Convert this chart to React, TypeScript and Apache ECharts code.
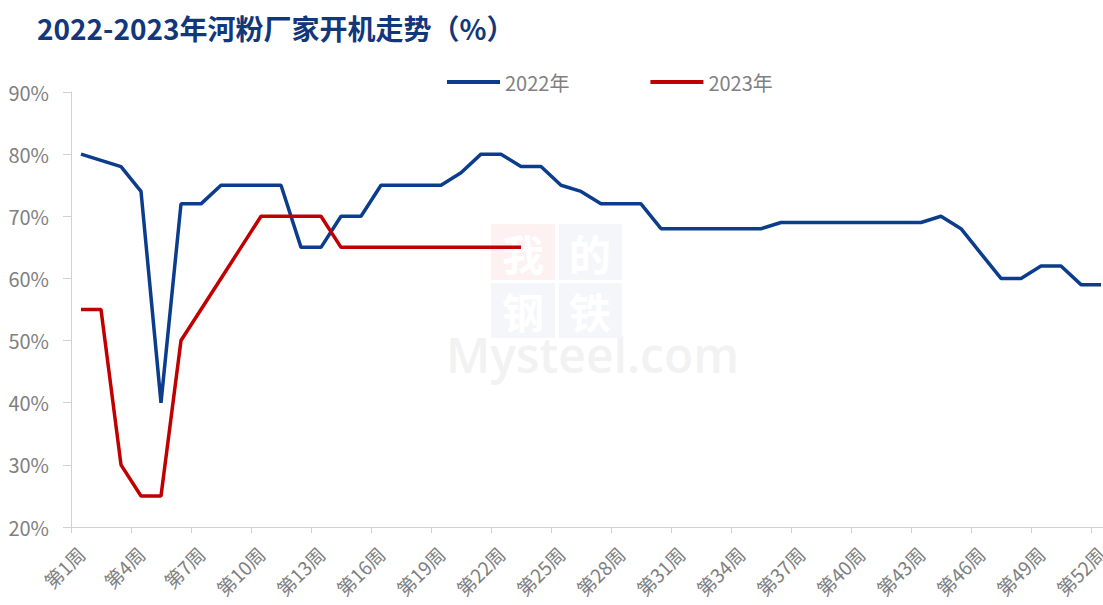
import React, { useEffect, useRef } from "react";
import * as echarts from "echarts";

const weeks: string[] = Array.from({ length: 52 }, (_, i) => `第${i + 1}周`);

const series2022: number[] = [
  80, 79, 78, 74, 40, 72, 72, 75, 75, 75, 75, 65, 65, 70, 70, 75, 75, 75, 75, 77,
  80, 80, 78, 78, 75, 74, 72, 72, 72, 68, 68, 68, 68, 68, 68, 69, 69, 69, 69, 69,
  69, 69, 69, 70, 68, 64, 60, 60, 62, 62, 59, 59,
];

const series2023: number[] = [
  55, 55, 30, 25, 25, 50, 55, 60, 65, 70, 70, 70, 70, 65, 65, 65, 65, 65, 65, 65,
  65, 65, 65,
];

const yTicks = { min: 20, max: 90, interval: 10 };

const titleText = "2022-2023年河粉厂家开机走势（%）";
const legendNames = ["2022年", "2023年"];

export default function App() {
  const ref = useRef<HTMLDivElement>(null);

  useEffect(() => {
    if (!ref.current) return;
    const chart = echarts.init(ref.current, null, { renderer: "svg" });
    const gray = "#808080";
    const font = "'Noto Sans CJK SC', 'Noto Sans', sans-serif";
    const wm = (t: string, x: number, y: number) => ({
      type: "text",
      x,
      y,
      style: {
        text: t,
        fontSize: 42,
        fontWeight: "bold",
        fill: "#ffffff",
        align: "center",
        verticalAlign: "middle",
        fontFamily: font,
      },
      z: -9,
    });
    chart.setOption({
      animation: false,
      backgroundColor: "#ffffff",
      title: {
        text: titleText,
        left: 32,
        top: 9,
        textStyle: {
          fontSize: 28,
          fontWeight: "bold",
          color: "#12377a",
          fontFamily: font,
        },
      },
      legend: {
        left: 442,
        top: 67,
        icon: "rect",
        itemWidth: 53,
        itemHeight: 4,
        itemGap: 81,
        textStyle: { fontSize: 20, color: gray, fontFamily: font },
        data: legendNames,
      },
      graphic: [
        { type: "rect", shape: { x: 491, y: 224, width: 64, height: 56 }, style: { fill: "#fdf1f1" }, z: -10 },
        { type: "rect", shape: { x: 559, y: 224, width: 63, height: 56 }, style: { fill: "#f4f6fa" }, z: -10 },
        { type: "rect", shape: { x: 491, y: 283, width: 64, height: 55 }, style: { fill: "#f4f6fa" }, z: -10 },
        { type: "rect", shape: { x: 559, y: 283, width: 63, height: 55 }, style: { fill: "#f4f6fa" }, z: -10 },
        wm("我", 523, 252),
        wm("的", 590, 252),
        wm("钢", 523, 310),
        wm("铁", 590, 310),
        {
          type: "text",
          x: 446,
          y: 378,
          style: {
            text: "Mysteel.com",
            fontSize: 48,
            fontWeight: 600,
            fill: "#f2f2f2",
            align: "left",
            verticalAlign: "bottom",
            fontFamily: "'Open Sans', sans-serif",
          },
          z: -11,
        },
      ],
      grid: {
        left: 71,
        width: 1040,
        top: 92,
        bottom: 78,
        containLabel: false,
        outerBoundsMode: "none",
      },
      xAxis: {
        type: "category",
        data: weeks,
        boundaryGap: true,
        axisLine: { show: true, lineStyle: { color: "#d0d0d0", width: 1 } },
        axisTick: { show: true, interval: 2, length: 6, lineStyle: { color: "#d0d0d0" } },
        axisLabel: {
          interval: 2,
          rotate: 45,
          fontSize: 19,
          color: gray,
          margin: 23,
          fontFamily: font,
        },
        splitLine: { show: false },
      },
      yAxis: {
        type: "value",
        min: yTicks.min,
        max: yTicks.max,
        interval: yTicks.interval,
        axisLine: { show: true, lineStyle: { color: "#d0d0d0", width: 1 } },
        axisTick: { show: true, length: 8, lineStyle: { color: "#d0d0d0" } },
        axisLabel: {
          formatter: "{value}%",
          fontSize: 20,
          color: gray,
          margin: 22,
          fontFamily: font,
        },
        splitLine: { show: false },
      },
      series: [
        {
          name: legendNames[0],
          type: "line",
          data: series2022,
          symbol: "none",
          lineStyle: { color: "#0b3d8c", width: 3.5 },
          itemStyle: { color: "#0b3d8c" },
          z: 3,
        },
        {
          name: legendNames[1],
          type: "line",
          data: series2023,
          symbol: "none",
          lineStyle: { color: "#c00000", width: 3.5 },
          itemStyle: { color: "#c00000" },
          z: 3,
        },
      ],
    });
    return () => chart.dispose();
  }, []);

  return (
    <div
      ref={ref}
      style={{ position: "fixed", left: 0, top: 0, width: 1103, height: 605 }}
    />
  );
}
